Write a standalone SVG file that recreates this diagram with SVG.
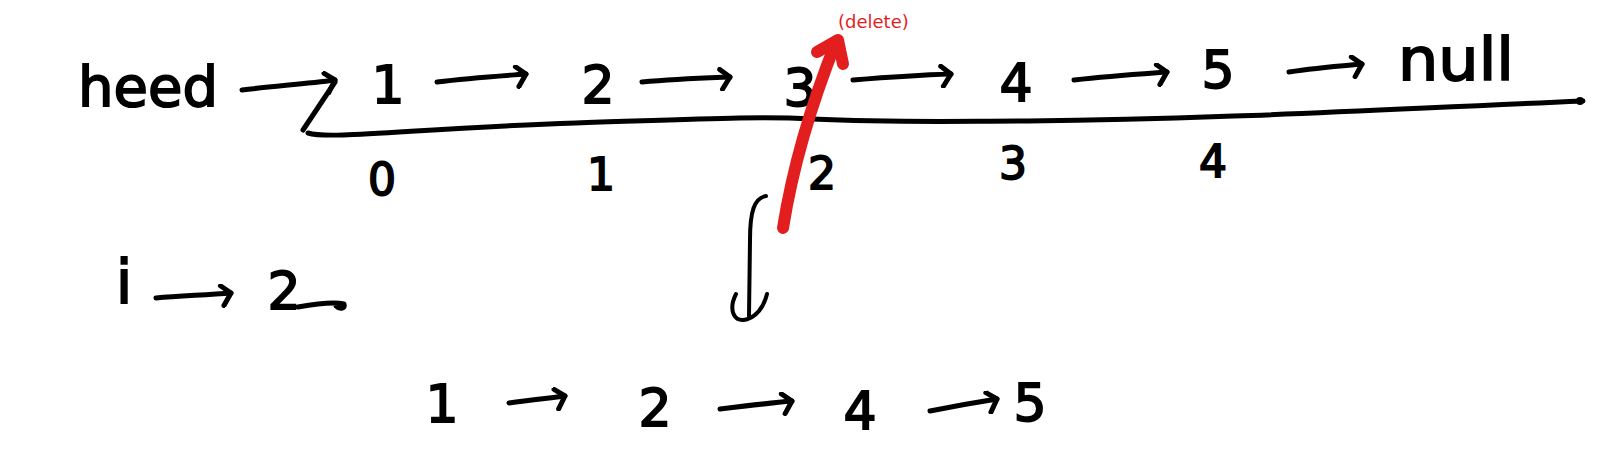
<svg xmlns="http://www.w3.org/2000/svg" width="1612" height="476" viewBox="0 0 1612 476">
<style>
.t{font-family:"DejaVu Sans","Liberation Sans",sans-serif;fill:#000;stroke:#000;stroke-width:1.8;text-anchor:middle}
.big{font-size:52px}
.idx{font-size:44px}
.ln{fill:none;stroke:#000;stroke-width:5;stroke-linecap:round;stroke-linejoin:round}
.red{fill:none;stroke:#e21e1e;stroke-width:12;stroke-linecap:round;stroke-linejoin:round}
</style>
<defs>
<marker id="ah" viewBox="0 0 24 24" refX="20" refY="10" markerWidth="24" markerHeight="24" markerUnits="userSpaceOnUse" orient="auto">
<path d="M10,2 L20,10 L12,22" fill="none" stroke="#000" stroke-width="5" stroke-linecap="round" stroke-linejoin="round"/>
</marker>
</defs>
<rect width="1612" height="476" fill="#fff"/>

<g id="head"><text class="t" x="148" y="106" style="font-size:56px">heed</text></g>
<g id="n1"><text class="t big" x="388" y="103">1</text></g>
<g id="n2"><text class="t big" x="598" y="103">2</text></g>
<g id="n3"><text class="t big" x="800" y="106">3</text></g>
<g id="n4"><text class="t big" x="1016" y="101">4</text></g>
<g id="n5"><text class="t big" x="1218" y="88">5</text></g>
<g id="null"><text class="t" x="1456" y="80" style="font-size:58px" textLength="116" lengthAdjust="spacingAndGlyphs">null</text></g>

<g id="indices">
<text class="t idx" x="382" y="195">0</text>
<text class="t idx" x="601" y="190">1</text>
<text class="t idx" x="822" y="189">2</text>
<text class="t idx" x="1013" y="179">3</text>
<text class="t idx" x="1213" y="177">4</text>
</g>

<g id="i-eq"><text class="t" x="124" y="303" style="font-size:60px">i</text>
<text class="t big" x="284" y="309">2</text>
<path class="ln" d="M298,307 C315,304 335,302 344,304 C346,308 340,310 336,306"/>
</g>

<g id="delete-label"><text x="838" y="28" style="font-family:'DejaVu Sans','Liberation Sans',sans-serif;font-size:18px;fill:#e21e1e">(delete)</text></g>

<g id="b1"><text class="t big" x="442" y="422">1</text></g>
<g id="b2"><text class="t big" x="655" y="426">2</text></g>
<g id="b4"><text class="t big" x="860" y="429">4</text></g>
<g id="b5"><text class="t big" x="1030" y="421">5</text></g>

<g id="connectors">
<path class="ln" d="M242,90 C275,86 305,84 335,80" marker-end="url(#ah)"/>
<path class="ln" d="M335,82 L303,130"/>
<path class="ln" d="M308,133 C330,140 420,128 576,123 C700,119 760,116 812,119 C900,123 960,121 1028,121 C1130,120 1180,118 1234,116 C1330,113 1400,109 1583,101"/>
<circle cx="1580" cy="101" r="4" fill="#000"/>
<path class="ln" d="M437,82 C470,78 500,76 526,74" marker-end="url(#ah)"/>
<path class="ln" d="M642,82 C675,79 705,78 730,77" marker-end="url(#ah)"/>
<path class="ln" d="M853,80 C890,77 920,75 951,74" marker-end="url(#ah)"/>
<path class="ln" d="M1074,80 C1110,76 1140,74 1167,72" marker-end="url(#ah)"/>
<path class="ln" d="M1289,72 C1315,68 1340,66 1362,64" marker-end="url(#ah)"/>
<path class="ln" d="M156,298 C180,296 205,295 231,293" marker-end="url(#ah)"/>
<path class="ln" d="M509,403 C530,400 550,398 565,396" marker-end="url(#ah)"/>
<path class="ln" d="M720,409 C745,406 770,403 792,401" marker-end="url(#ah)"/>
<path class="ln" d="M930,411 C955,406 978,402 997,399" marker-end="url(#ah)"/>
<path class="ln" style="stroke-width:4" d="M766,196 C754,198 750,212 750,240 L749,316"/>
<path class="ln" style="stroke-width:4" d="M736,294 C728,310 734,324 748,319 C758,315 764,306 767,294"/>
<path class="red" d="M783,228 Q797,140 836,42"/>
<path class="red" d="M817,52 L838,40 L843,64"/>
</g>
</svg>
